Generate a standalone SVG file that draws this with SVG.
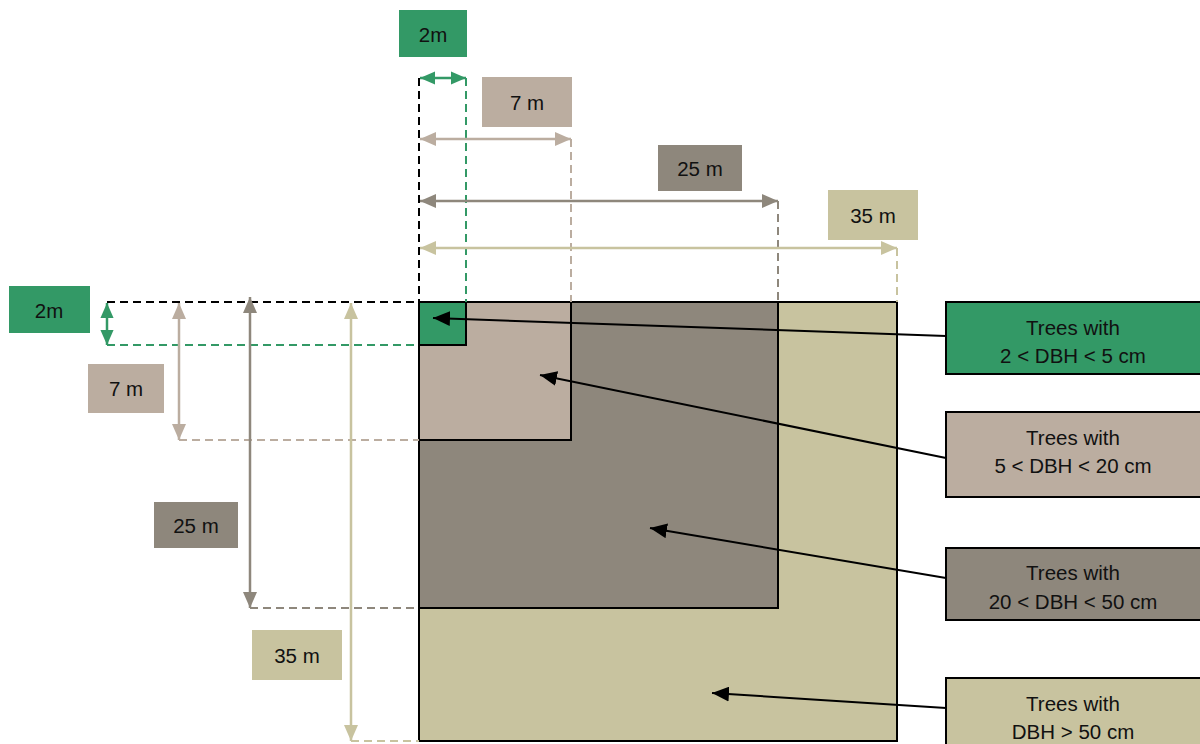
<svg xmlns="http://www.w3.org/2000/svg" width="1200" height="744" viewBox="0 0 1200 744">
<defs>
<style>
text{font-family:"Liberation Sans",Arial,sans-serif;font-size:20.5px;fill:#111;text-anchor:middle;dominant-baseline:central}
.dash{fill:none;stroke-width:2;stroke-dasharray:8 5}
.dim{fill:none;stroke-width:2.5}
.plot{stroke:#000;stroke-width:2}
.leg{stroke:#000;stroke-width:2}
.ptr{stroke:#000;stroke-width:2;fill:none}
</style>
<marker id="aG" viewBox="0 0 16 14" refX="16" refY="7" markerWidth="15" markerHeight="14" markerUnits="userSpaceOnUse" orient="auto-start-reverse"><path d="M0,0L16,7L0,14z" fill="#339966"/></marker>
<marker id="aL" viewBox="0 0 16 14" refX="16" refY="7" markerWidth="16" markerHeight="15" markerUnits="userSpaceOnUse" orient="auto-start-reverse"><path d="M0,0L16,7L0,14z" fill="#bbada0"/></marker>
<marker id="aD" viewBox="0 0 16 14" refX="16" refY="7" markerWidth="16" markerHeight="15" markerUnits="userSpaceOnUse" orient="auto-start-reverse"><path d="M0,0L16,7L0,14z" fill="#8e877c"/></marker>
<marker id="aK" viewBox="0 0 16 14" refX="16" refY="7" markerWidth="16" markerHeight="15" markerUnits="userSpaceOnUse" orient="auto-start-reverse"><path d="M0,0L16,7L0,14z" fill="#c8c39f"/></marker>
<marker id="aB" viewBox="0 0 16 14" refX="16" refY="7" markerWidth="17" markerHeight="15" markerUnits="userSpaceOnUse" orient="auto"><path d="M0,0L16,7L0,14z" fill="#000"/></marker>
</defs>

<g id="plots">
<rect id="plot35" class="plot" x="419" y="302" width="478" height="439" fill="#c8c39f"/>
<rect id="plot25" class="plot" x="419" y="302" width="359" height="306" fill="#8e877c"/>
<rect id="plot7" class="plot" x="419" y="302" width="152" height="138" fill="#bbada0"/>
<rect id="plot2" class="plot" x="419" y="302" width="47" height="43" fill="#339966"/>
</g>

<g id="connectors">
<line class="dash" stroke="#000" x1="419" y1="78" x2="419" y2="302"/>
<line class="dash" stroke="#339966" x1="466" y1="78" x2="466" y2="302"/>
<line class="dash" stroke="#bbada0" x1="571" y1="139" x2="571" y2="302"/>
<line class="dash" stroke="#8e877c" x1="778" y1="201" x2="778" y2="302"/>
<line class="dash" stroke="#c8c39f" x1="897" y1="248" x2="897" y2="302"/>
<line class="dash" stroke="#000" x1="107" y1="302" x2="419" y2="302"/>
<line class="dash" stroke="#339966" x1="107" y1="345" x2="419" y2="345"/>
<line class="dash" stroke="#bbada0" x1="179" y1="440" x2="419" y2="440"/>
<line class="dash" stroke="#8e877c" x1="250" y1="608" x2="419" y2="608"/>
<line class="dash" stroke="#c8c39f" x1="351" y1="741" x2="419" y2="741"/>
<line class="dim" stroke="#339966" x1="420" y1="78" x2="466" y2="78" marker-start="url(#aG)" marker-end="url(#aG)"/>
<line class="dim" stroke="#bbada0" x1="420" y1="139" x2="571" y2="139" marker-start="url(#aL)" marker-end="url(#aL)"/>
<line class="dim" stroke="#8e877c" x1="420" y1="201" x2="778" y2="201" marker-start="url(#aD)" marker-end="url(#aD)"/>
<line class="dim" stroke="#c8c39f" x1="420" y1="248" x2="897" y2="248" marker-start="url(#aK)" marker-end="url(#aK)"/>
<line class="dim" stroke="#339966" x1="107" y1="303" x2="107" y2="345" marker-start="url(#aG)" marker-end="url(#aG)"/>
<line class="dim" stroke="#bbada0" x1="179" y1="303" x2="179" y2="440" marker-start="url(#aL)" marker-end="url(#aL)"/>
<line class="dim" stroke="#8e877c" x1="250" y1="297" x2="250" y2="608" marker-start="url(#aD)" marker-end="url(#aD)"/>
<line class="dim" stroke="#c8c39f" x1="351" y1="303" x2="351" y2="741" marker-start="url(#aK)" marker-end="url(#aK)"/>
<line class="ptr" x1="946" y1="336" x2="433" y2="318" marker-end="url(#aB)"/>
<line class="ptr" x1="946" y1="458" x2="540" y2="375" marker-end="url(#aB)"/>
<line class="ptr" x1="946" y1="578" x2="650" y2="528" marker-end="url(#aB)"/>
<line class="ptr" x1="946" y1="708" x2="712" y2="693" marker-end="url(#aB)"/>
</g>

<g id="lbl-top-2"><rect x="399" y="10" width="68" height="47" fill="#339966"/><text x="433" y="34">2m</text></g>
<g id="lbl-top-7"><rect x="482" y="77" width="90" height="50" fill="#bbada0"/><text x="527" y="102">7 m</text></g>
<g id="lbl-top-25"><rect x="658" y="145" width="84" height="46" fill="#8e877c"/><text x="700" y="168">25 m</text></g>
<g id="lbl-top-35"><rect x="828" y="190" width="90" height="50" fill="#c8c39f"/><text x="873" y="215">35 m</text></g>
<g id="lbl-left-2"><rect x="9" y="286" width="81" height="47" fill="#339966"/><text x="49" y="310">2m</text></g>
<g id="lbl-left-7"><rect x="88" y="364" width="76" height="49" fill="#bbada0"/><text x="126" y="388">7 m</text></g>
<g id="lbl-left-25"><rect x="154" y="502" width="84" height="46" fill="#8e877c"/><text x="196" y="525">25 m</text></g>
<g id="lbl-left-35"><rect x="252" y="630" width="90" height="50" fill="#c8c39f"/><text x="297" y="655">35 m</text></g>

<g id="leg-2"><rect class="leg" x="946" y="302" width="260" height="72" fill="#339966"/><text x="1073" y="327">Trees with</text><text x="1073" y="355">2 &lt; DBH &lt; 5 cm</text></g>
<g id="leg-7"><rect class="leg" x="946" y="412" width="260" height="85" fill="#bbada0"/><text x="1073" y="437">Trees with</text><text x="1073" y="465">5 &lt; DBH &lt; 20 cm</text></g>
<g id="leg-25"><rect class="leg" x="946" y="548" width="260" height="72" fill="#8e877c"/><text x="1073" y="572">Trees with</text><text x="1073" y="601">20 &lt; DBH &lt; 50 cm</text></g>
<g id="leg-35"><rect class="leg" x="946" y="678" width="260" height="80" fill="#c8c39f"/><text x="1073" y="703">Trees with</text><text x="1073" y="731">DBH &gt; 50 cm</text></g>
</svg>
